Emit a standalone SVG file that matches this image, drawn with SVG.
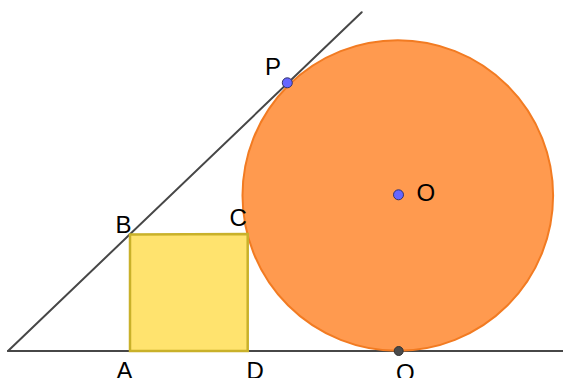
<svg xmlns="http://www.w3.org/2000/svg" width="563" height="378" viewBox="0 0 563 378">
<style>
.ln{stroke:#474747;stroke-width:2;fill:none;stroke-linecap:round}
.lbl{font-family:"Liberation Sans",Arial,sans-serif;font-size:24px;fill:#000}
.pt{fill:#6666ff;stroke:#33336b;stroke-width:1}
</style>
<rect width="563" height="378" fill="#ffffff"/>
<g id="connectors">
<line class="ln" x1="8" y1="351" x2="563" y2="351"/>
<line class="ln" x1="8" y1="351" x2="361.7" y2="12.3"/>
</g>
<g id="circle">
<circle cx="397.8" cy="195.5" r="155.3" fill="#ff9a4f" stroke="#f27b22" stroke-width="2"/>
</g>
<g id="square">
<polygon points="130,351 130,234.5 247.7,234 247.7,351" fill="#ffe36e" stroke="#c9b12a" stroke-width="2.5"/>
</g>
<g id="P"><circle class="pt" cx="287.3" cy="82.8" r="5"/><text class="lbl" x="265" y="75">P</text></g>
<g id="O"><circle class="pt" cx="398.5" cy="194.8" r="5"/><text class="lbl" x="416.5" y="201">O</text></g>
<g id="Q"><circle cx="398.7" cy="351" r="4.5" fill="#4a4a4a" stroke="#333" stroke-width="1"/><text class="lbl" x="396" y="380.5">Q</text></g>
<g id="A"><text class="lbl" x="116.5" y="378.5">A</text></g>
<g id="B"><text class="lbl" x="115.5" y="233">B</text></g>
<g id="C"><text class="lbl" x="229.5" y="226">C</text></g>
<g id="D"><text class="lbl" x="246.5" y="378.5">D</text></g>
</svg>
